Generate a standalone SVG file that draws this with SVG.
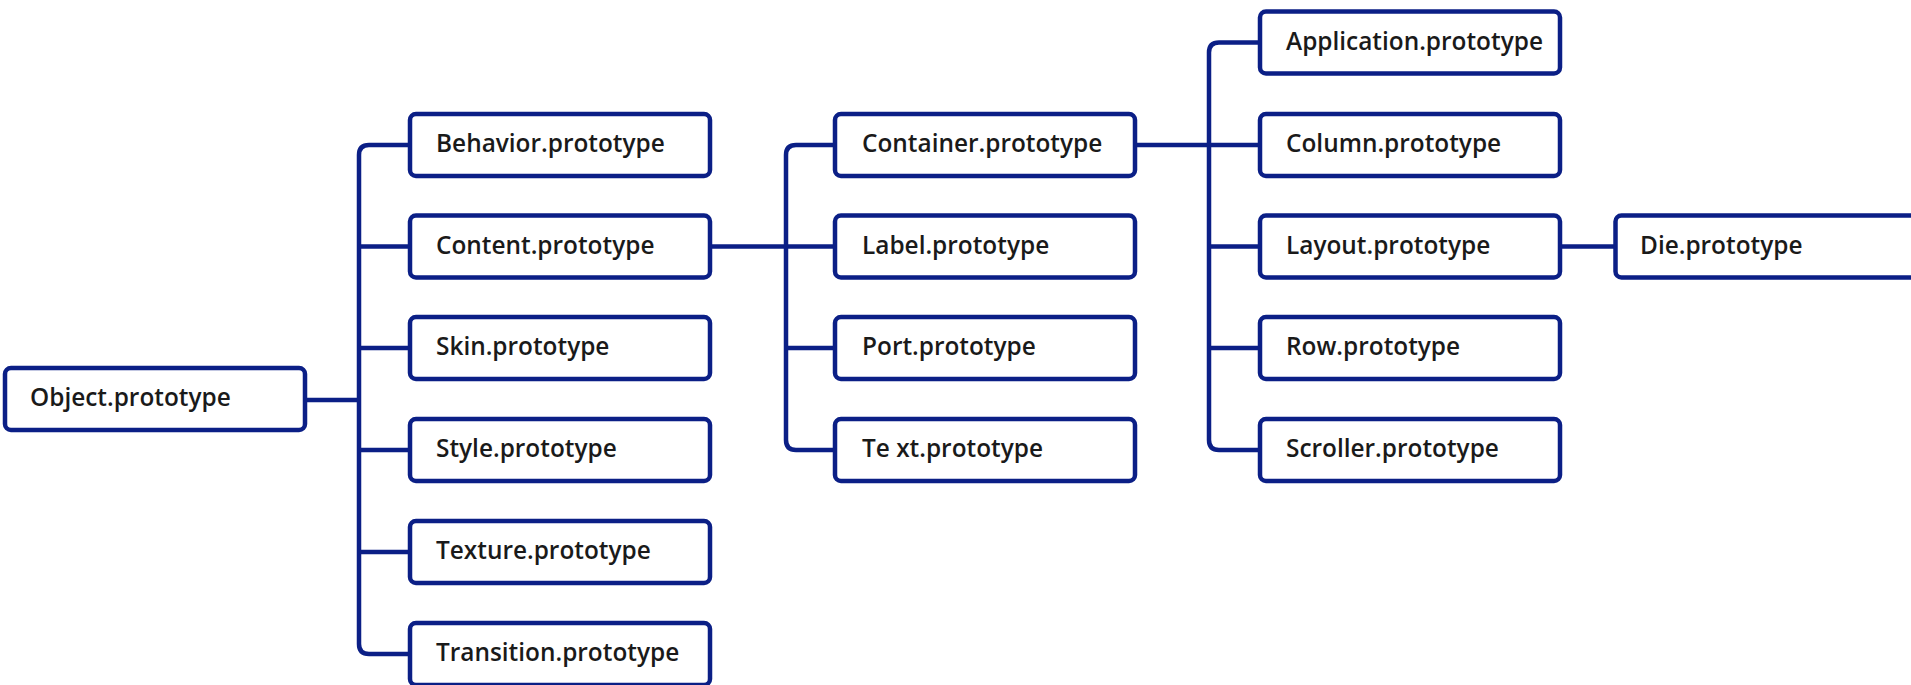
<svg xmlns="http://www.w3.org/2000/svg" width="1911" height="685" viewBox="0 0 1911 685">
<style>
.box{fill:#ffffff;stroke:#0b1f86;stroke-width:4.5}
.lbl{font-family:"Open Sans","Noto Sans",sans-serif;font-weight:600;font-size:24.4px;fill:#1a1a1a}
.con{fill:none;stroke:#0b1f86;stroke-width:4.5}
</style>
<rect width="1911" height="685" fill="#ffffff"/>
<g id="connectors">
<path class="con" d="M307 400 H359"/>
<path class="con" d="M408 145 H369 Q359 145 359 155 V644 Q359 654 369 654 H408"/>
<path class="con" d="M359 246.5 H408 M359 348 H408 M359 450 H408 M359 552 H408"/>
<path class="con" d="M712 246.5 H833"/>
<path class="con" d="M833 145 H796 Q786 145 786 155 V440 Q786 450 796 450 H833"/>
<path class="con" d="M786 348 H833"/>
<path class="con" d="M1137 145 H1258"/>
<path class="con" d="M1258 42.5 H1219 Q1209 42.5 1209 52.5 V440 Q1209 450 1219 450 H1258"/>
<path class="con" d="M1209 246.5 H1258 M1209 348 H1258"/>
<path class="con" d="M1562 246.5 H1614"/>
</g>
<g id="object"><rect class="box" x="5" y="368" width="300" height="62" rx="6"/><text class="lbl" x="30" y="406">Object.prototype</text></g>
<g id="behavior"><rect class="box" x="410" y="114" width="300" height="62" rx="6"/><text class="lbl" x="436" y="152">Behavior.prototype</text></g>
<g id="content"><rect class="box" x="410" y="215.5" width="300" height="62" rx="6"/><text class="lbl" x="436" y="253.5">Content.prototype</text></g>
<g id="skin"><rect class="box" x="410" y="317" width="300" height="62" rx="6"/><text class="lbl" x="436" y="355">Skin.prototype</text></g>
<g id="style"><rect class="box" x="410" y="419" width="300" height="62" rx="6"/><text class="lbl" x="436" y="457">Style.prototype</text></g>
<g id="texture"><rect class="box" x="410" y="521" width="300" height="62" rx="6"/><text class="lbl" x="436" y="559">Texture.prototype</text></g>
<g id="transition"><rect class="box" x="410" y="623" width="300" height="62" rx="6"/><text class="lbl" x="436" y="661">Transition.prototype</text></g>
<g id="container"><rect class="box" x="835" y="114" width="300" height="62" rx="6"/><text class="lbl" x="862" y="152">Container.prototype</text></g>
<g id="label"><rect class="box" x="835" y="215.5" width="300" height="62" rx="6"/><text class="lbl" x="862" y="253.5">Label.prototype</text></g>
<g id="port"><rect class="box" x="835" y="317" width="300" height="62" rx="6"/><text class="lbl" x="862" y="355">Port.prototype</text></g>
<g id="text"><rect class="box" x="835" y="419" width="300" height="62" rx="6"/><text class="lbl" x="862" y="457">Te xt.prototype</text></g>
<g id="application"><rect class="box" x="1260" y="11.5" width="300" height="62" rx="6"/><text class="lbl" x="1286" y="49.5">Application.prototype</text></g>
<g id="column"><rect class="box" x="1260" y="114" width="300" height="62" rx="6"/><text class="lbl" x="1286" y="152">Column.prototype</text></g>
<g id="layout"><rect class="box" x="1260" y="215.5" width="300" height="62" rx="6"/><text class="lbl" x="1286" y="253.5">Layout.prototype</text></g>
<g id="row"><rect class="box" x="1260" y="317" width="300" height="62" rx="6"/><text class="lbl" x="1286" y="355">Row.prototype</text></g>
<g id="scroller"><rect class="box" x="1260" y="419" width="300" height="62" rx="6"/><text class="lbl" x="1286" y="457">Scroller.prototype</text></g>
<g id="die"><rect class="box" x="1615.5" y="215.5" width="320" height="62" rx="6"/><text class="lbl" x="1640" y="253.5">Die.prototype</text></g>
</svg>
